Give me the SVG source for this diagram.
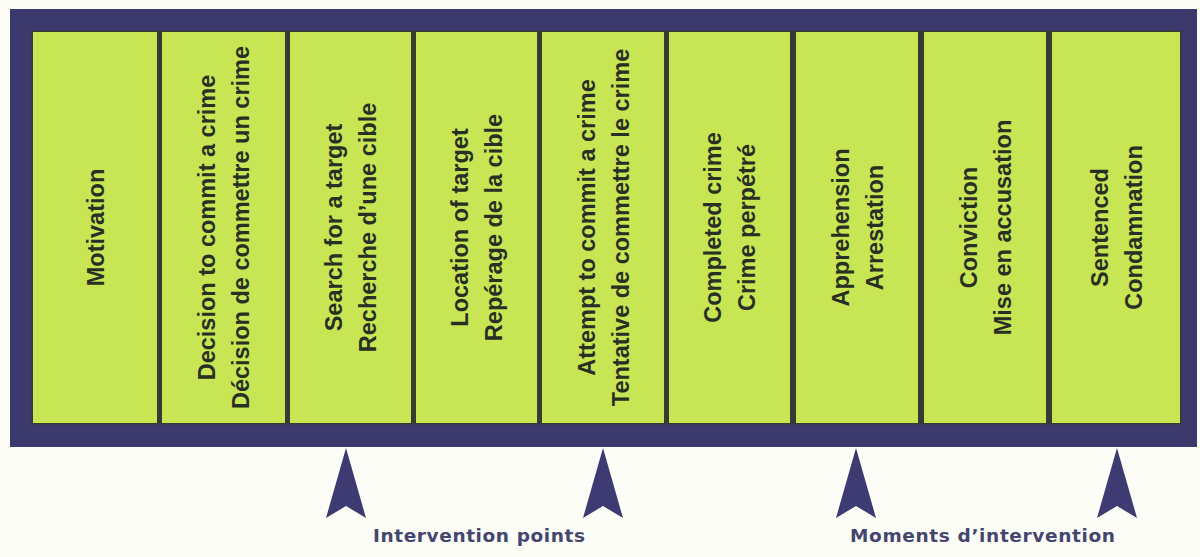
<svg xmlns="http://www.w3.org/2000/svg" width="1200" height="557" viewBox="0 0 1200 557">
  <style>
    .stage { fill: #c8e654; }
    .lbl { font-family: "Liberation Sans", Arial, Helvetica, sans-serif; font-weight: bold; font-size: 23.5px; fill: #283024; text-anchor: middle; }
    .caption { font-family: "DejaVu Sans", "Liberation Sans", sans-serif; font-weight: bold; font-size: 18.5px; fill: #44466f; }
    .pointer { fill: #3e3b72; }
  </style>
  <defs>
    <!-- upward pointer with a notched base, centred on x=0, tip at y=0 -->
    <path id="pointer" d="M0,0 L20,70 L0,58 L-20,70 Z"/>
  </defs>

  <rect width="1200" height="557" fill="#fcfdf6"/>

  <!-- outer frame -->
  <g id="frame">
    <rect x="10" y="9" width="1187" height="438" fill="#3c3a6c"/>
    <rect x="31.5" y="30.5" width="1150" height="394" fill="#363b34"/>
  </g>

  <!-- stages of the sequence -->
  <g id="stage-motivation">
    <rect class="stage" x="33" y="32" width="124" height="391"/>
    <text class="lbl" transform="translate(95,227.5) rotate(-90)"><tspan x="0" y="8.5">Motivation</tspan></text>
  </g>
  <g id="stage-decision">
    <rect class="stage" x="162" y="32" width="123" height="391"/>
    <text class="lbl" transform="translate(223.5,227.5) rotate(-90)"><tspan x="0" y="-8.5">Decision to commit a crime</tspan><tspan x="0" y="25.5">Décision de commettre un crime</tspan></text>
  </g>
  <g id="stage-search">
    <rect class="stage" x="290" y="32" width="121" height="391"/>
    <text class="lbl" transform="translate(350.5,227.5) rotate(-90)"><tspan x="0" y="-8.5">Search for a target</tspan><tspan x="0" y="25.5">Recherche d’une cible</tspan></text>
  </g>
  <g id="stage-location">
    <rect class="stage" x="416" y="32" width="121" height="391"/>
    <text class="lbl" transform="translate(476.5,227.5) rotate(-90)"><tspan x="0" y="-8.5">Location of target</tspan><tspan x="0" y="25.5">Repérage de la cible</tspan></text>
  </g>
  <g id="stage-attempt">
    <rect class="stage" x="542" y="32" width="122" height="391"/>
    <text class="lbl" transform="translate(603,227.5) rotate(-90)"><tspan x="0" y="-8.5">Attempt to commit a crime</tspan><tspan x="0" y="25.5">Tentative de commettre le crime</tspan></text>
  </g>
  <g id="stage-completed">
    <rect class="stage" x="669" y="32" width="121" height="391"/>
    <text class="lbl" transform="translate(729.5,227.5) rotate(-90)"><tspan x="0" y="-8.5">Completed crime</tspan><tspan x="0" y="25.5">Crime perpétré</tspan></text>
  </g>
  <g id="stage-apprehension">
    <rect class="stage" x="796" y="32" width="122" height="391"/>
    <text class="lbl" transform="translate(857,227.5) rotate(-90)"><tspan x="0" y="-8.5">Apprehension</tspan><tspan x="0" y="25.5">Arrestation</tspan></text>
  </g>
  <g id="stage-conviction">
    <rect class="stage" x="924" y="32" width="122" height="391"/>
    <text class="lbl" transform="translate(985,227.5) rotate(-90)"><tspan x="0" y="-8.5">Conviction</tspan><tspan x="0" y="25.5">Mise en accusation</tspan></text>
  </g>
  <g id="stage-sentenced">
    <rect class="stage" x="1052" y="32" width="128" height="391"/>
    <text class="lbl" transform="translate(1116,227.5) rotate(-90)"><tspan x="0" y="-8.5">Sentenced</tspan><tspan x="0" y="25.5">Condamnation</tspan></text>
  </g>

  <!-- intervention pointers -->
  <g id="connectors">
    <use href="#pointer" class="pointer" x="346" y="448"/>
    <use href="#pointer" class="pointer" x="603" y="448"/>
    <use href="#pointer" class="pointer" x="856" y="448"/>
    <use href="#pointer" class="pointer" x="1117" y="448"/>
  </g>

  <g id="captions">
    <text class="caption" x="373" y="542" textLength="212" lengthAdjust="spacing">Intervention points</text>
    <text class="caption" x="850" y="542" textLength="265" lengthAdjust="spacing">Moments d’intervention</text>
  </g>
</svg>
